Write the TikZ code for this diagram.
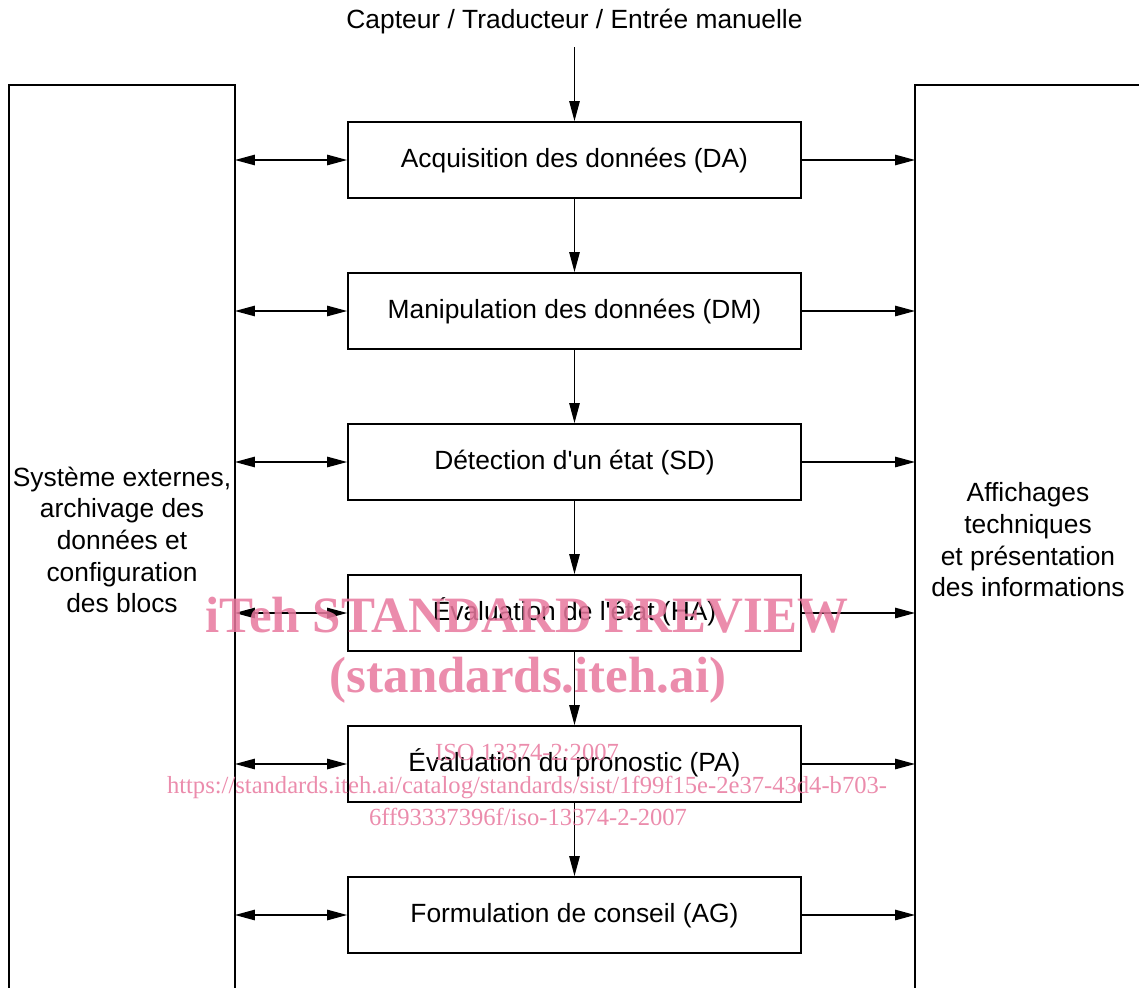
\documentclass[tikz,border=0pt]{standalone}
\usepackage{fontspec}
\setmainfont{Liberation Sans}
\newfontfamily\wmfont{Liberation Serif}
\usetikzlibrary{arrows.meta,positioning}
\definecolor{cWater}{HTML}{E8789E}

\begin{document}
\begin{tikzpicture}[x=0.02cm,y=-0.02cm,font=\fontsize{15}{18}\selectfont,
  blockbox/.style={draw,line width=1.1pt,minimum width=9.06cm,minimum height=1.52cm,inner sep=0pt,
    text height=0.9em,text depth=0pt},
  flow/.style={line width=0.7pt,-{Triangle[length=4mm,width=2.1mm]}},
  both/.style={line width=0.7pt,{Triangle[length=4mm,width=2.1mm]}-{Triangle[length=4mm,width=2.1mm]}},
  sidetext/.style={align=center,inner sep=0pt},
  wmark/.style={text=cWater,opacity=0.85,inner sep=0pt,anchor=base}]
  \useasboundingbox (0,0) rectangle (1139,987);
  % side blocks, open at the bottom
  \draw[line width=1.1pt] (9,995) -- (9,85) -- (235,85) -- (235,995);
  \draw[line width=1.1pt] (915,995) -- (915,85) -- (1145,85);
  \coordinate (lsys) at (235,85);
  \coordinate (rsys) at (915,85);
  \node[sidetext] (ext) at (122,540) {Système externes,\\archivage des\\données et\\configuration\\des blocs};
  \node[sidetext] (disp) at (1028,540) {Affichages\\techniques\\et présentation\\des informations};
  % input
  \node[inner sep=0pt] (input) at (574.5,22) {Capteur / Traducteur / Entrée manuelle};
  % processing chain
  \node[blockbox] (da) at (574.5,160) {Acquisition des données (DA)};
  \node[blockbox] (dm) at (574.5,311) {Manipulation des données (DM)};
  \node[blockbox] (sd) at (574.5,462) {Détection d\textquotesingle un état (SD)};
  \node[blockbox] (ha) at (574.5,613) {Évaluation de l\textquotesingle état (HA)};
  \node[blockbox] (pa) at (574.5,764) {Évaluation du pronostic (PA)};
  \node[blockbox] (ag) at (574.5,915) {Formulation de conseil (AG)};
  \draw[flow,shorten <=0.25cm] (input.south) -- (da.north);
  \foreach \a/\b in {da/dm,dm/sd,sd/ha,ha/pa,pa/ag} {
    \draw[flow] (\a) -- (\b);
  }
  \foreach \n in {da,dm,sd,ha,pa,ag} {
    \draw[both] (\n.west -| lsys) -- (\n.west);
    \draw[flow] (\n.east) -- (\n.east -| rsys);
  }
  % watermark
  \node[wmark,font=\wmfont\bfseries\fontsize{29}{34}\selectfont] (wm1) at (527,632) {iTeh STANDARD PREVIEW};
  \node[wmark,font=\wmfont\bfseries\fontsize{29}{34}\selectfont] (wm2) at (528,692) {(standards.iteh.ai)};
  \node[wmark,font=\wmfont\fontsize{14}{16}\selectfont] (wm3) at (527,760) {ISO 13374-2:2007};
  \node[wmark,font=\wmfont\fontsize{14}{16}\selectfont] (wm4) at (527,793) {https://standards.iteh.ai/catalog/standards/sist/1f99f15e-2e37-43d4-b703-};
  \node[wmark,font=\wmfont\fontsize{14}{16}\selectfont] (wm5) at (528,825) {6ff93337396f/iso-13374-2-2007};
\end{tikzpicture}
\end{document}
